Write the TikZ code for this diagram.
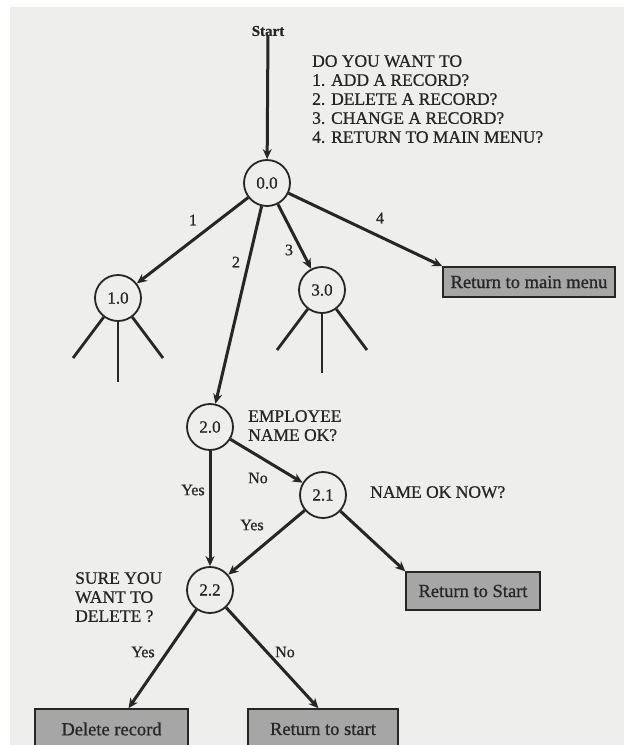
\documentclass[tikz,border=0pt]{standalone}
\usepackage{fontspec}
\setmainfont{Liberation Serif}[FakeBold=0.8]
\usetikzlibrary{arrows.meta,calc}
\definecolor{paper}{HTML}{EEEEEC}
\definecolor{ink}{HTML}{262626}
\definecolor{boxfill}{HTML}{A6A6A6}
\tikzset{
  state/.style={circle,draw=ink,line width=1.8pt,minimum size=46pt,inner sep=0pt,
    text=ink,font=\fontsize{17}{19}\selectfont},
  exitbox/.style={rectangle,draw=ink,line width=1.5pt,fill=boxfill,inner sep=0pt,
    text=ink,font=\fontsize{18.5}{20}\selectfont},
  flow/.style={draw=ink,line width=3pt,-{Stealth[length=10pt,width=9pt]}},
  leg/.style={draw=ink,line width=2.8pt},
  prompt/.style={text=ink,align=left,inner sep=0pt,anchor=north west,
    font=\fontsize{17.5}{19}\selectfont},
  tag/.style={text=ink,inner sep=0pt,font=\fontsize{16}{18}\selectfont}
}
\begin{document}
\begin{tikzpicture}[x=1pt,y=-1pt]
\useasboundingbox (0,0) rectangle (624,745);
\clip (0,0) rectangle (624,745);
\fill[white] (0,0) rectangle (624,745);
\fill[paper] (10,7) rectangle (624,745);

% menu prompt
\node[tag,font=\bfseries\fontsize{15}{17}\selectfont] (start) at (268,31) {Start};
\node[prompt] (menu) at (312,55) {DO YOU WANT TO\\1. ADD A RECORD?\\2. DELETE A RECORD?\\3. CHANGE A RECORD?\\4. RETURN TO MAIN MENU?};

% states
\node[state] (s00) at (267,183) {0.0};
\node[state] (s10) at (118,298) {1.0};
\node[state] (s30) at (322,290) {3.0};
\node[state] (s20) at (210,427) {2.0};
\node[state] (s21) at (323,495) {2.1};
\node[state] (s22) at (210,590) {2.2};

% exits
\node[exitbox,minimum width=172pt,minimum height=30pt] (mainmenu) at (529,282) {Return to main menu};
\node[exitbox,minimum width=134pt,minimum height=38pt] (retS) at (473,591) {Return to Start};
\node[exitbox,minimum width=153pt,minimum height=40pt] (del) at (111.5,729) {Delete record};
\node[exitbox,minimum width=150pt,minimum height=40pt] (rets) at (323,729) {Return to start};

% prompts beside states
\node[prompt] (empq) at (248,410) {EMPLOYEE\\NAME OK?};
\node[prompt] (nowq) at (370,486) {NAME OK NOW?};
\node[prompt] (sureq) at (75,572) {SURE YOU\\WANT TO\\DELETE ?};

% connectors
\draw[flow] (start) -- (s00);
\draw[flow] (s00) -- (s10);
\draw[flow] (s00) -- (s20);
\draw[flow] (s00) -- (s30);
\draw[flow] (s00) -- (mainmenu.north west);
\draw[flow] (s20) -- (s22);
\draw[flow] (s20) -- (s21);
\draw[flow] (s21) -- (s22);
\draw[flow] (s21) -- (retS.north west);
\draw[flow] (s22) -- ($(del.north west)!0.61!(del.north east)$);
\draw[flow] (s22) -- ($(rets.north west)!0.47!(rets.north east)$);

% unexpanded sub-trees
\coordinate (a1) at (73,358);
\coordinate (a2) at (118,382);
\coordinate (a3) at (163,358);
\coordinate (b1) at (277,350);
\coordinate (b2) at (322,373);
\coordinate (b3) at (367,350);
\draw[leg] (s10) -- (a1);
\draw[leg] (s10.south) -- (a2);
\draw[leg] (s10) -- (a3);
\draw[leg] (s30) -- (b1);
\draw[leg] (s30.south) -- (b2);
\draw[leg] (s30) -- (b3);

% choice labels
\node[tag] (l1) at (193,220) {1};
\node[tag] (l2) at (236,262) {2};
\node[tag] (l3) at (289,250) {3};
\node[tag] (l4) at (380,218) {4};
\node[tag] (lno1) at (258,478) {No};
\node[tag] (lyes1) at (193,490) {Yes};
\node[tag] (lyes2) at (252,525) {Yes};
\node[tag] (lyes3) at (143,652) {Yes};
\node[tag] (lno2) at (285,652) {No};
\end{tikzpicture}
\end{document}
